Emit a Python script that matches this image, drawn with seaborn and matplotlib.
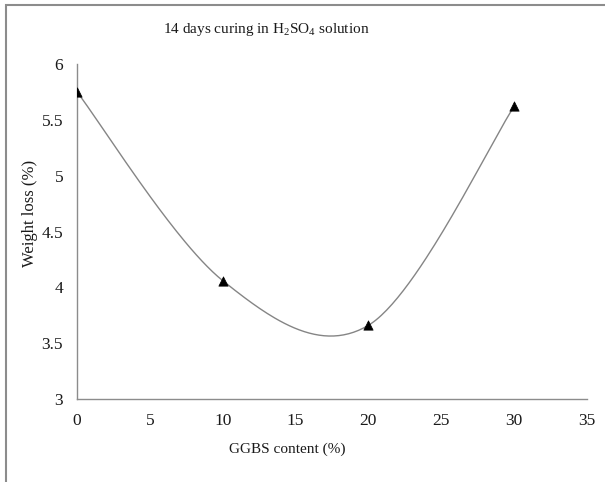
import numpy as np
import pandas as pd
import matplotlib.pyplot as plt
from matplotlib.patches import Rectangle
import seaborn as sns

# data
ggbs = [0, 10, 20, 30]
weight_loss = [5.75, 4.06, 3.66, 5.62]
x_ticks = [0, 5, 10, 15, 20, 25, 30, 35]
y_ticks = [3, 3.5, 4, 4.5, 5, 5.5, 6]


def excel_smooth(xs, ys, n=60):
    # Bezier smoothing similar to the "smoothed line" option in Excel
    p = np.column_stack([xs, ys]).astype(float)
    pad = np.vstack([p[0], p, p[-1]])
    out = []
    for i in range(len(p) - 1):
        p0, p1 = pad[i + 1], pad[i + 2]
        c1 = p0 + (pad[i + 2] - pad[i]) / 6
        c2 = p1 - (pad[i + 3] - pad[i + 1]) / 6
        t = np.linspace(0, 1, n)[:, None]
        seg = ((1 - t) ** 3) * p0 + 3 * ((1 - t) ** 2) * t * c1 + 3 * (1 - t) * t ** 2 * c2 + t ** 3 * p1
        out.append(seg if i == 0 else seg[1:])
    return np.vstack(out)


sns.set_theme(style="white")
plt.rcParams['font.family'] = ['Liberation Serif', 'DejaVu Serif']
plt.rcParams['mathtext.fontset'] = 'custom'
plt.rcParams['mathtext.rm'] = 'Liberation Serif'

curve = excel_smooth(ggbs, weight_loss)
df_curve = pd.DataFrame({'x': curve[:, 0], 'y': curve[:, 1]})
df_pts = pd.DataFrame({'x': ggbs, 'y': weight_loss})

fig = plt.figure(figsize=(6.05, 4.82), dpi=100)
ax = fig.add_axes([77 / 605, 1 - 399 / 482, (587 - 77) / 605, (399 - 64) / 482])

sns.lineplot(data=df_curve, x='x', y='y', ax=ax, color='#858585', linewidth=1.0, sort=False)
sns.scatterplot(data=df_pts, x='x', y='y', ax=ax, marker='^', color='black', s=45,
                edgecolor='black', linewidth=0.5, zorder=5)

ax.set_xlim(0, 35)
ax.set_ylim(3, 6)
ax.set_xticks(x_ticks)
ax.set_yticks(y_ticks)
ax.set_xticklabels([str(v) for v in x_ticks])
ax.set_yticklabels([f"{v:g}" for v in y_ticks])
ax.set_xlabel('')
ax.set_ylabel('')
for side in ['top', 'right']:
    ax.spines[side].set_visible(False)
for side in ['left', 'bottom']:
    ax.spines[side].set_color('#8c8c8c')
    ax.spines[side].set_linewidth(1.0)
ax.tick_params(axis='both', direction='out', length=4, width=1, color='#8c8c8c',
               labelsize=12.5, labelcolor='#1a1a1a', pad=6)
ax.patch.set_alpha(0)

fig.text(266 / 605, 1 - 30 / 482, r'14 days curing in H$_\mathregular{2}$SO$_\mathregular{4}$ solution',
         ha='center', va='center', fontsize=11, color='#1a1a1a')
fig.text(287 / 605, 1 - 449 / 482, 'GGBS content (%)', ha='center', va='center',
         fontsize=11, color='#1a1a1a')
fig.text(30 / 605, 1 - 213 / 482, 'Weight loss (%)', ha='center', va='center',
         rotation=90, fontsize=12, color='#1a1a1a')

# outer chart border (only top and left edges show in the crop)
fig.patches.append(Rectangle((6 / 605, -0.1), 1.2, 1 - 5 / 482 + 0.1, transform=fig.transFigure,
                             fill=False, edgecolor='#8c8c8c', linewidth=1.5, clip_on=False))

fig.savefig('out.png', dpi=100)
